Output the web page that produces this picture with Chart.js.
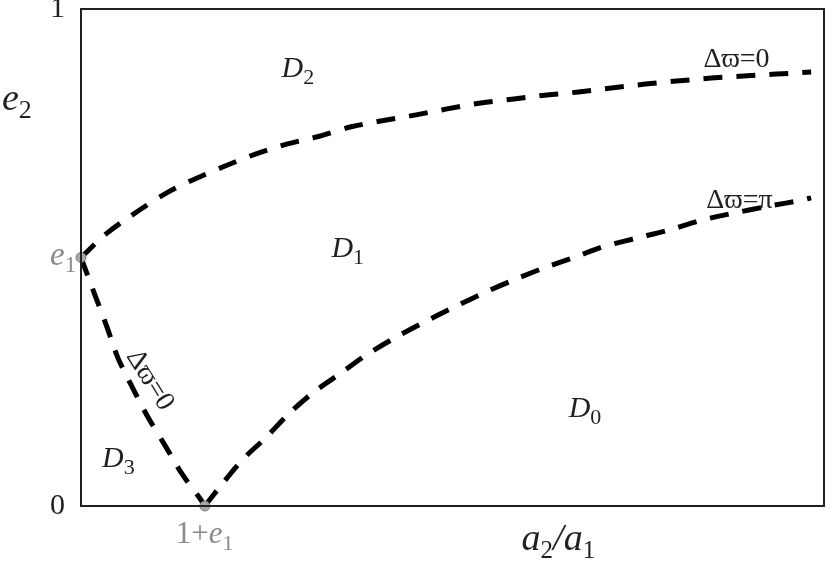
<!DOCTYPE html>
<html>
<head>
<meta charset="utf-8">
<script src="https://cdn.jsdelivr.net/npm/chart.js@4"></script>
<style>
html,body{margin:0;padding:0;background:#fff;}
#c{display:block;}
</style>
</head>
<body>
<canvas id="c" width="830" height="563"></canvas>
<script>
// ---- data ----
const upperX = [1.0, 1.105, 1.238, 1.346, 1.451, 1.572, 1.693, 1.830, 1.962, 2.091, 2.216, 2.353, 2.478, 2.615, 2.748, 2.881, 3.009, 3.142, 3.279, 3.404, 3.545, 3.674, 3.807, 3.948];
const upperY = [0.500, 0.549, 0.596, 0.630, 0.656, 0.682, 0.706, 0.728, 0.744, 0.763, 0.775, 0.787, 0.799, 0.811, 0.819, 0.827, 0.833, 0.841, 0.849, 0.855, 0.861, 0.865, 0.869, 0.873];
const lowerX = [1.5, 1.560, 1.652, 1.749, 1.834, 1.934, 2.051, 2.152, 2.273, 2.386, 2.506, 2.627, 2.748, 2.869, 2.997, 3.102, 3.243, 3.372, 3.505, 3.642, 3.763, 3.916, 3.948];
const lowerY = [0.0, 0.038, 0.093, 0.139, 0.183, 0.227, 0.268, 0.304, 0.340, 0.370, 0.400, 0.429, 0.455, 0.479, 0.501, 0.521, 0.539, 0.555, 0.575, 0.590, 0.602, 0.616, 0.620];
const leftX = [1.0, 1.056, 1.105, 1.149, 1.209, 1.270, 1.338, 1.406, 1.479, 1.5];
const leftY = [0.500, 0.425, 0.360, 0.298, 0.237, 0.179, 0.123, 0.066, 0.016, 0.0];
const markX = [1.0, 1.5];
const markY = [0.5, 0.0];
const yTickValues = [0, 1];
const yTickLabels = ['0', '1'];

const toXY = (xs, ys) => xs.map((x, i) => ({x: x, y: ys[i]}));

const SERIF = "'Liberation Serif', 'DejaVu Serif', serif";
const INK = '#231f20';
const GRAY = '#8a8a8a';

function runs(ctx, x, y, parts, color) {
  let cx = x;
  ctx.fillStyle = color || INK;
  ctx.textAlign = 'left';
  ctx.textBaseline = 'alphabetic';
  for (const p of parts) {
    ctx.font = (p.it ? 'italic ' : '') + p.s + 'px ' + SERIF;
    ctx.fillText(p.t, cx, y + (p.dy || 0));
    cx += ctx.measureText(p.t).width + (p.gap || 0);
  }
}

const textPlugin = {
  id: 'texts',
  afterDraw(chart) {
    const ctx = chart.ctx;
    const a = chart.chartArea;
    const xs = chart.scales.x, ys = chart.scales.y;
    const X = v => xs.getPixelForValue(v), Y = v => ys.getPixelForValue(v);
    ctx.save();
    ctx.strokeStyle = INK;
    ctx.lineWidth = 2;
    ctx.strokeRect(a.left, a.top, a.right - a.left, a.bottom - a.top);

    const D = (x, y, sub) => runs(ctx, X(x), Y(y), [{t: 'D', it: true, s: 30}, {t: sub, s: 22, dy: 7}]);
    D(1.810, 0.863, '2');
    D(2.011, 0.501, '1');
    D(2.969, 0.179, '0');
    D(1.085, 0.078, '3');

    runs(ctx, X(3.513), Y(0.883), [{t: '\u0394\u03D6=0', s: 28}]);
    runs(ctx, X(3.525), Y(0.600), [{t: '\u0394\u03D6=\u03C0', s: 28}]);

    ctx.save();
    ctx.translate(X(1.278), Y(0.253));
    ctx.rotate(58 * Math.PI / 180);
    ctx.font = '28px ' + SERIF;
    ctx.fillStyle = INK;
    ctx.textAlign = 'center';
    ctx.textBaseline = 'middle';
    ctx.fillText('\u0394\u03D6=0', 0, 0);
    ctx.restore();

    runs(ctx, a.left - 79, a.top + 101, [{t: 'e', it: true, s: 38}, {t: '2', s: 26, dy: 8}]);
    runs(ctx, X(2.779), a.bottom + 44, [
      {t: 'a', it: true, s: 38}, {t: '2', s: 25, dy: 8},
      {t: '/', it: true, s: 38}, {t: 'a', it: true, s: 38}, {t: '1', s: 25, dy: 8}]);

    runs(ctx, a.left - 31, Y(0.5) + 7, [{t: 'e', it: true, s: 33}, {t: '1', s: 23, dy: 7}], GRAY);
    runs(ctx, X(1.5) - 29, a.bottom + 37, [{t: '1+', s: 31}, {t: 'e', it: true, s: 31}, {t: '1', s: 22, dy: 7}], GRAY);
    ctx.restore();
  }
};

const lineStyle = {
  showLine: true,
  borderColor: '#000',
  borderWidth: 5,
  borderDash: [19, 14],
  pointRadius: 0,
  tension: 0.3,
  fill: false
};

new Chart(document.getElementById('c'), {
  type: 'scatter',
  data: {
    datasets: [
      {label: 'points', data: toXY(markX, markY), pointRadius: 5, pointBackgroundColor: '#a8a8a8',
       pointBorderColor: '#7d7d7d', pointBorderWidth: 1, showLine: false, clip: false},
      Object.assign({label: 'upper \u0394\u03D6=0', data: toXY(upperX, upperY)}, lineStyle),
      Object.assign({label: '\u0394\u03D6=\u03C0', data: toXY(lowerX, lowerY)}, lineStyle),
      Object.assign({label: 'left \u0394\u03D6=0', data: toXY(leftX, leftY)}, lineStyle)
    ]
  },
  options: {
    responsive: false,
    animation: false,
    devicePixelRatio: 1,
    layout: {padding: {left: 0, top: 9, right: 4, bottom: 57}},
    plugins: {legend: {display: false}, tooltip: {enabled: false}},
    scales: {
      x: {type: 'linear', min: 1, max: 4, display: false},
      y: {
        type: 'linear', min: 0, max: 1, position: 'left',
        grid: {display: false, drawTicks: false},
        border: {display: false},
        afterFit: s => { s.width = 81; s.paddingTop = 0; s.paddingBottom = 0; },
        afterBuildTicks: s => { s.ticks = yTickValues.map(v => ({value: v})); },
        ticks: {
          padding: 16,
          color: INK,
          font: {family: SERIF, size: 30},
          callback: (v) => yTickLabels[yTickValues.indexOf(v)]
        }
      }
    }
  },
  plugins: [textPlugin]
});
</script>
</body>
</html>
